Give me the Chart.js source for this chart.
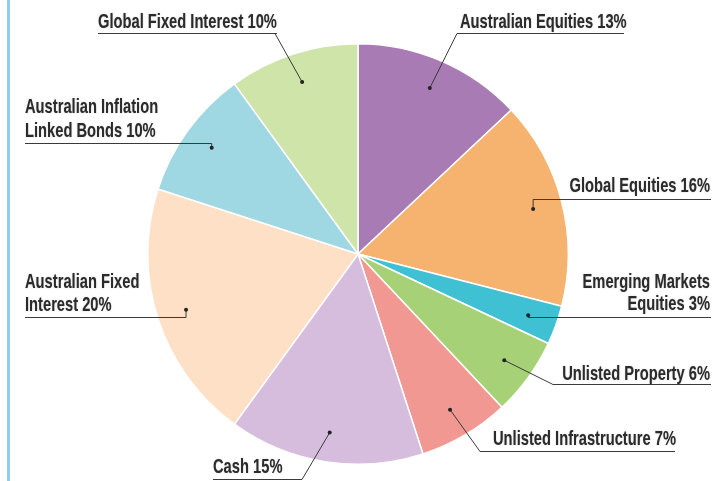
<!DOCTYPE html>
<html>
<head>
<meta charset="utf-8">
<script src="https://cdn.jsdelivr.net/npm/chart.js@4"></script>
<style>
  html, body { margin: 0; padding: 0; background: #fff; }
  #wrap { position: relative; width: 722px; height: 481px; }
</style>
</head>
<body>
<div id="wrap"><canvas id="pieChart" width="722" height="481"></canvas></div>
<script>
// asset classes, clockwise from 12 o'clock
const categories = [
  'Australian Equities', 'Global Equities', 'Emerging Markets Equities',
  'Unlisted Property', 'Unlisted Infrastructure', 'Cash',
  'Australian Fixed Interest', 'Australian Inflation Linked Bonds', 'Global Fixed Interest'
];
const allocation = [13, 16, 3, 6, 7, 15, 20, 10, 10];
const labelLines = [
  ['Australian Equities 13%'],
  ['Global Equities 16%'],
  ['Emerging Markets', 'Equities 3%'],
  ['Unlisted Property 6%'],
  ['Unlisted Infrastructure 7%'],
  ['Cash 15%'],
  ['Australian Fixed', 'Interest 20%'],
  ['Australian Inflation', 'Linked Bonds 10%'],
  ['Global Fixed Interest 10%']
];
const sliceColours = ['#a97bb5', '#f6b26f', '#3fc1d3', '#a6d176', '#f29893', '#d6bddd', '#fde0c6', '#9fd7e3', '#cfe4a9'];

// where each callout sits (ux0/ux1 null = run to the dot)
const callouts = [
  { x: 460, align: 'left',  y: 28,  lh: 0,  uy: 33,  ux0: 457, ux1: 624, ex: 457 },
  { x: 710, align: 'right', y: 192, lh: 0,  uy: 199, ux0: null, ux1: 711, ex: null },
  { x: 710, align: 'right', y: 288, lh: 22, uy: 317, ux0: null, ux1: 711, ex: null },
  { x: 710, align: 'right', y: 380, lh: 0,  uy: 384, ux0: 553, ux1: 711, ex: 553 },
  { x: 493, align: 'left',  y: 445, lh: 0,  uy: 451, ux0: 480, ux1: 675, ex: 480 },
  { x: 213, align: 'left',  y: 473, lh: 0,  uy: 479, ux0: 213, ux1: 302, ex: 302 },
  { x: 25,  align: 'left',  y: 288, lh: 23, uy: 317, ux0: 25,  ux1: null, ex: null },
  { x: 25,  align: 'left',  y: 113, lh: 24, uy: 143, ux0: 25,  ux1: null, ex: null },
  { x: 98,  align: 'left',  y: 28,  lh: 0,  uy: 33,  ux0: 98,  ux1: 277, ex: 275 }
];

const calloutPlugin = {
  id: 'callouts',
  beforeDraw(chart) {
    const ctx = chart.ctx;
    ctx.save();
    ctx.fillStyle = '#8ccdf0';
    ctx.fillRect(7, 0, 3, chart.height);
    ctx.restore();
  },
  afterDatasetsDraw(chart) {
    const ctx = chart.ctx;
    const arcs = chart.getDatasetMeta(0).data;
    arcs.forEach((arc, i) => {
      const p = arc.getProps(['x', 'y', 'startAngle', 'endAngle', 'outerRadius'], true);
      const mid = (p.startAngle + p.endAngle) / 2;
      const dx = p.x + Math.cos(mid) * p.outerRadius * 0.86;
      const dy = p.y + Math.sin(mid) * p.outerRadius * 0.86;
      const c = callouts[i];

      ctx.save();
      ctx.strokeStyle = '#3a3a3a';
      ctx.lineWidth = 1;
      // underline
      const u0 = c.ux0 === null ? dx : c.ux0;
      const u1 = c.ux1 === null ? dx : c.ux1;
      ctx.beginPath();
      ctx.moveTo(u0, c.uy + 0.5);
      ctx.lineTo(u1, c.uy + 0.5);
      ctx.stroke();
      // leader
      ctx.beginPath();
      ctx.moveTo(dx, dy);
      ctx.lineTo(c.ex !== null ? c.ex : dx, c.uy + 0.5);
      ctx.stroke();
      // dot
      ctx.fillStyle = '#222';
      ctx.beginPath();
      ctx.arc(dx, dy, 2, 0, Math.PI * 2);
      ctx.fill();

      // label text, squeezed to look condensed
      ctx.fillStyle = '#2b2b2b';
      ctx.font = 'bold 21px "Liberation Sans", Arial, sans-serif';
      ctx.textAlign = c.align;
      ctx.textBaseline = 'alphabetic';
      ctx.shadowColor = 'rgba(0,0,0,0.25)';
      ctx.shadowBlur = 1.5;
      labelLines[i].forEach((line, k) => {
        ctx.save();
        ctx.translate(c.x, c.y + k * c.lh);
        ctx.scale(0.7, 1);
        ctx.fillText(line, 0, 0);
        ctx.restore();
      });
      ctx.restore();
    });
  }
};

new Chart(document.getElementById('pieChart'), {
  type: 'pie',
  data: {
    labels: categories,
    datasets: [{
      data: allocation,
      backgroundColor: sliceColours,
      borderColor: '#ffffff',
      borderWidth: 1.5
    }]
  },
  options: {
    responsive: false,
    animation: false,
    layout: { padding: { left: 147, right: 153, top: 43, bottom: 16 } },
    plugins: {
      legend: { display: false },
      tooltip: { enabled: false }
    }
  },
  plugins: [calloutPlugin]
});
</script>
</body>
</html>
